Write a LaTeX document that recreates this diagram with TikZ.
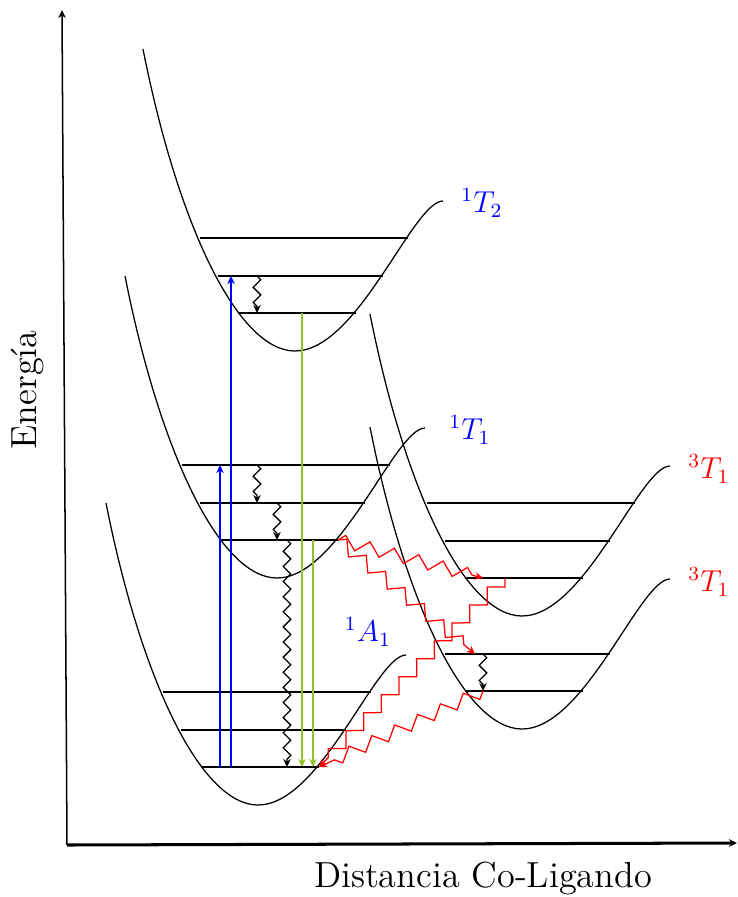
\documentclass[tikz,border=0pt]{standalone}
\definecolor{emgreen}{RGB}{150,190,40}
\usetikzlibrary{arrows.meta,calc,decorations.pathmorphing}
\tikzset{
  >={Stealth[length=3.2pt,width=3pt]},
  pes/.style={black,line width=0.5pt},
  lvl/.style={black,line width=0.5pt},
  lbl/.style={font=\large,inner sep=1pt},
  absarr/.style={->,blue,line width=0.5pt},
  emarr/.style={->,emgreen,line width=0.5pt},
  vibarr/.style={->,black,line width=0.5pt,decorate,
                 decoration={zigzag,amplitude=1.5pt,segment length=6pt,post length=2pt}},
  iscarr/.style={->,red,line width=0.5pt,decorate,
                 decoration={zigzag,amplitude=2.5pt,segment length=10pt,post length=3pt}},
}
\begin{document}
\begin{tikzpicture}[x=0.397pt,y=-0.397pt]
  \useasboundingbox (0,0) rectangle (738,897);

  %% Axes
  \coordinate (origin) at (67,845);
  \coordinate (ytop) at (62,10);
  \coordinate (xend) at (737,843);
  \draw[semithick,->] (origin) -- (ytop);
  \draw[very thick,->] (origin) -- (xend);
  \node[font=\Large] (xlab) at (483,878) {Distancia Co-Ligando};
  \node[font=\Large,rotate=90] (ylab) at (28,390) {Energ\'{\i}a};

  %% Potential wells and vibrational levels
  \foreach \name/\mx/\my/\nl in {AA/258/805/3, TA/277/578/3, TB/295/351/3,
                                 QA/522/616/3, QB/522/729/2}{
    \begin{scope}[shift={(\mx,\my)}]
      \draw[pes] (-152,-302) .. controls (-117,-125) and (-57,0) .. (0,0)
                 .. controls (63,0) and (118,-150) .. (148,-150);
      \foreach \i/\dl/\dr/\dy in {1/-57/61/-38, 2/-77/88/-75, 3/-95/113/-113}{
        \ifnum\i>\nl\relax\else
          \coordinate (\name-l\i) at (\dl,\dy);
          \coordinate (\name-r\i) at (\dr,\dy);
          \draw[lvl] (\name-l\i) -- (\name-r\i);
        \fi
      }
    \end{scope}
  }

  %% Absorption
  \draw[absarr] (231,0 |- AA-l1) -- (231,0 |- TB-l2);
  \draw[absarr] (220,0 |- AA-l1) -- (220,0 |- TA-l3);

  %% Vibrational relaxation
  \draw[vibarr] (257,0 |- TB-l2) -- (257,0 |- TB-l1);
  \draw[vibarr] (257,0 |- TA-l3) -- (257,0 |- TA-l2);
  \draw[vibarr] (277,0 |- TA-l2) -- (277,0 |- TA-l1);
  \draw[vibarr] (287,0 |- TA-l1) -- (287,0 |- AA-l1);
  \draw[vibarr] (483,0 |- QB-l2) -- (483,0 |- QB-l1);

  %% Emission
  \draw[emarr] (302,0 |- TB-l1) -- (302,0 |- AA-l1);
  \draw[emarr] (313,0 |- TA-l1) -- (313,0 |- AA-l1);

  %% Intersystem crossing
  \draw[iscarr] (TA-r1) -- (483,0 |- QA-l1);
  \draw[iscarr] (TA-r1) -- (475,0 |- QB-l2);
  \draw[iscarr] (505,0 |- QA-l1) -- (AA-r1);
  \draw[iscarr] (483,0 |- QB-l1) -- (AA-r1);

  %% Term symbols
  \node[lbl,blue] (lTB) at (482,203) {$^1T_2$};
  \node[lbl,blue] (lTA) at (470,430) {$^1T_1$};
  \node[lbl,blue] (lAA) at (368,632) {$^1A_1$};
  \node[lbl,red] (lQA) at (709,469) {$^3T_1$};
  \node[lbl,red] (lQB) at (709,582) {$^3T_1$};
\end{tikzpicture}
\end{document}
